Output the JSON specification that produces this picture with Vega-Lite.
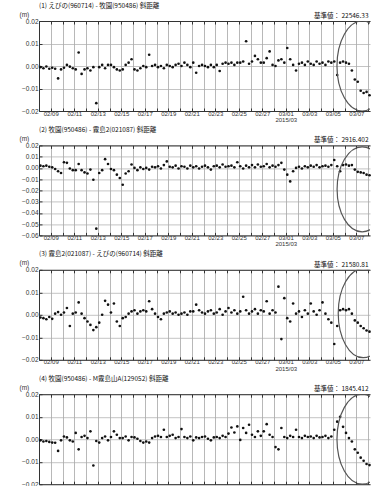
{
"$schema": "https://vega.github.io/schema/vega-lite/v6.json",
"padding": {"left": 19, "top": 2, "right": 0, "bottom": 0},
"background": "white",
"config": {
  "view": {"stroke": null},
  "font": "Liberation Sans",
  "axis": {"labelFont": "Liberation Sans", "labelColor": "#333", "titleFont": "Liberation Sans", "titleColor": "#333"},
  "title": {"font": "Noto Sans CJK JP", "fontSize": 6.5, "fontWeight": "normal", "color": "#111", "anchor": "start", "frame": "group", "offset": 2}
},
"datasets": {
"p1": [
{"t":"2015-02-08T03:00","v":-0.0005},{"t":"2015-02-08T09:00","v":-0.001},{"t":"2015-02-08T15:00","v":-0.0002},{"t":"2015-02-08T21:00","v":-0.0012},
{"t":"2015-02-09T03:00","v":-0.0008},{"t":"2015-02-09T09:00","v":-0.0012},{"t":"2015-02-09T15:00","v":-0.0055},{"t":"2015-02-09T21:00","v":-0.0015},
{"t":"2015-02-10T03:00","v":-0.0008},{"t":"2015-02-10T09:00","v":0.0005},{"t":"2015-02-10T15:00","v":-0.0003},{"t":"2015-02-10T21:00","v":-0.001},
{"t":"2015-02-11T03:00","v":-0.0015},{"t":"2015-02-11T09:00","v":0.006},{"t":"2015-02-11T15:00","v":-0.0035},{"t":"2015-02-11T21:00","v":-0.0015},
{"t":"2015-02-12T03:00","v":-0.001},{"t":"2015-02-12T09:00","v":-0.002},{"t":"2015-02-12T15:00","v":-0.0005},{"t":"2015-02-12T21:00","v":-0.0165},
{"t":"2015-02-13T03:00","v":-0.0005},{"t":"2015-02-13T09:00","v":0.0005},{"t":"2015-02-13T15:00","v":-0.001},{"t":"2015-02-13T21:00","v":0.0005},
{"t":"2015-02-14T03:00","v":0.0005},{"t":"2015-02-14T09:00","v":-0.0005},{"t":"2015-02-14T15:00","v":-0.0015},{"t":"2015-02-14T21:00","v":-0.002},
{"t":"2015-02-15T03:00","v":-0.0015},{"t":"2015-02-15T09:00","v":0.0005},{"t":"2015-02-15T15:00","v":0.0015},{"t":"2015-02-15T21:00","v":0.003},
{"t":"2015-02-16T03:00","v":-0.0015},{"t":"2015-02-16T09:00","v":-0.002},{"t":"2015-02-16T15:00","v":-0.001},{"t":"2015-02-16T21:00","v":0.0},
{"t":"2015-02-17T03:00","v":-0.0005},{"t":"2015-02-17T09:00","v":0.005},{"t":"2015-02-17T15:00","v":0.0},{"t":"2015-02-17T21:00","v":0.0005},
{"t":"2015-02-18T03:00","v":-0.0005},{"t":"2015-02-18T09:00","v":0.0},{"t":"2015-02-18T15:00","v":-0.001},{"t":"2015-02-18T21:00","v":0.0005},
{"t":"2015-02-19T03:00","v":0.0},{"t":"2015-02-19T09:00","v":-0.0005},{"t":"2015-02-19T15:00","v":0.0005},{"t":"2015-02-19T21:00","v":0.001},
{"t":"2015-02-20T03:00","v":0.0},{"t":"2015-02-20T09:00","v":0.0015},{"t":"2015-02-20T15:00","v":0.0005},{"t":"2015-02-20T21:00","v":-0.0005},
{"t":"2015-02-21T03:00","v":0.0015},{"t":"2015-02-21T09:00","v":-0.003},{"t":"2015-02-21T15:00","v":0.0},{"t":"2015-02-21T21:00","v":0.0005},
{"t":"2015-02-22T03:00","v":0.0},{"t":"2015-02-22T09:00","v":-0.0005},{"t":"2015-02-22T15:00","v":0.0005},{"t":"2015-02-22T21:00","v":-0.0005},
{"t":"2015-02-23T03:00","v":0.0005},{"t":"2015-02-23T09:00","v":-0.0022},{"t":"2015-02-23T15:00","v":0.001},{"t":"2015-02-23T21:00","v":0.0015},
{"t":"2015-02-24T03:00","v":0.001},{"t":"2015-02-24T09:00","v":0.0015},{"t":"2015-02-24T15:00","v":0.0005},{"t":"2015-02-24T21:00","v":0.0015},
{"t":"2015-02-25T03:00","v":0.0015},{"t":"2015-02-25T09:00","v":0.002},{"t":"2015-02-25T15:00","v":0.011},{"t":"2015-02-25T21:00","v":0.001},
{"t":"2015-02-26T03:00","v":0.002},{"t":"2015-02-26T09:00","v":0.0045},{"t":"2015-02-26T15:00","v":0.003},{"t":"2015-02-26T21:00","v":0.0015},
{"t":"2015-02-27T03:00","v":0.0015},{"t":"2015-02-27T09:00","v":0.0035},{"t":"2015-02-27T15:00","v":0.0065},{"t":"2015-02-27T21:00","v":0.0005},
{"t":"2015-02-28T03:00","v":0.0},{"t":"2015-02-28T09:00","v":0.0025},{"t":"2015-02-28T15:00","v":0.003},{"t":"2015-02-28T21:00","v":0.0015},
{"t":"2015-03-01T03:00","v":0.008},{"t":"2015-03-01T09:00","v":0.003},{"t":"2015-03-01T15:00","v":0.0005},{"t":"2015-03-01T21:00","v":-0.002},
{"t":"2015-03-02T03:00","v":0.001},{"t":"2015-03-02T09:00","v":0.0015},{"t":"2015-03-02T15:00","v":0.0005},{"t":"2015-03-02T21:00","v":0.002},
{"t":"2015-03-03T03:00","v":0.001},{"t":"2015-03-03T09:00","v":0.0005},{"t":"2015-03-03T15:00","v":0.002},{"t":"2015-03-03T21:00","v":0.001},
{"t":"2015-03-04T03:00","v":0.0015},{"t":"2015-03-04T09:00","v":0.0005},{"t":"2015-03-04T15:00","v":0.002},{"t":"2015-03-04T21:00","v":0.0015},
{"t":"2015-03-05T03:00","v":0.002},{"t":"2015-03-05T09:00","v":-0.004},{"t":"2015-03-05T15:00","v":0.0015},{"t":"2015-03-05T21:00","v":0.002},
{"t":"2015-03-06T03:00","v":0.0015},{"t":"2015-03-06T09:00","v":0.001},{"t":"2015-03-06T15:00","v":-0.002},{"t":"2015-03-06T21:00","v":-0.006},
{"t":"2015-03-07T03:00","v":-0.007},{"t":"2015-03-07T09:00","v":-0.011},{"t":"2015-03-07T15:00","v":-0.012},{"t":"2015-03-07T21:00","v":-0.0115},
{"t":"2015-03-08T03:00","v":-0.013}
],
"p2": [
{"t":"2015-02-08T03:00","v":0.002},{"t":"2015-02-08T09:00","v":0.0015},{"t":"2015-02-08T15:00","v":0.002},{"t":"2015-02-08T21:00","v":0.001},
{"t":"2015-02-09T03:00","v":0.0005},{"t":"2015-02-09T09:00","v":-0.001},{"t":"2015-02-09T15:00","v":-0.003},{"t":"2015-02-09T21:00","v":-0.0045},
{"t":"2015-02-10T03:00","v":0.005},{"t":"2015-02-10T09:00","v":0.0045},{"t":"2015-02-10T15:00","v":-0.0005},{"t":"2015-02-10T21:00","v":-0.002},
{"t":"2015-02-11T03:00","v":-0.002},{"t":"2015-02-11T09:00","v":0.0035},{"t":"2015-02-11T15:00","v":-0.002},{"t":"2015-02-11T21:00","v":-0.004},
{"t":"2015-02-12T03:00","v":-0.005},{"t":"2015-02-12T09:00","v":-0.0015},{"t":"2015-02-12T15:00","v":-0.0105},{"t":"2015-02-12T21:00","v":-0.054},
{"t":"2015-02-13T03:00","v":-0.0045},{"t":"2015-02-13T09:00","v":-0.002},{"t":"2015-02-13T15:00","v":0.0078},{"t":"2015-02-13T21:00","v":0.0035},
{"t":"2015-02-14T03:00","v":-0.001},{"t":"2015-02-14T09:00","v":-0.002},{"t":"2015-02-14T15:00","v":-0.006},{"t":"2015-02-14T21:00","v":-0.009},
{"t":"2015-02-15T03:00","v":-0.015},{"t":"2015-02-15T09:00","v":-0.005},{"t":"2015-02-15T15:00","v":-0.003},{"t":"2015-02-15T21:00","v":0.003},
{"t":"2015-02-16T03:00","v":0.0},{"t":"2015-02-16T09:00","v":-0.002},{"t":"2015-02-16T15:00","v":0.0005},{"t":"2015-02-16T21:00","v":-0.001},
{"t":"2015-02-17T03:00","v":0.0},{"t":"2015-02-17T09:00","v":-0.0015},{"t":"2015-02-17T15:00","v":0.001},{"t":"2015-02-17T21:00","v":0.0005},
{"t":"2015-02-18T03:00","v":0.0015},{"t":"2015-02-18T09:00","v":-0.0005},{"t":"2015-02-18T15:00","v":0.0025},{"t":"2015-02-18T21:00","v":0.0058},
{"t":"2015-02-19T03:00","v":0.001},{"t":"2015-02-19T09:00","v":0.0005},{"t":"2015-02-19T15:00","v":0.002},{"t":"2015-02-19T21:00","v":-0.0005},
{"t":"2015-02-20T03:00","v":0.0015},{"t":"2015-02-20T09:00","v":0.001},{"t":"2015-02-20T15:00","v":-0.0005},{"t":"2015-02-20T21:00","v":0.002},
{"t":"2015-02-21T03:00","v":0.0005},{"t":"2015-02-21T09:00","v":0.0015},{"t":"2015-02-21T15:00","v":-0.0005},{"t":"2015-02-21T21:00","v":0.001},
{"t":"2015-02-22T03:00","v":0.002},{"t":"2015-02-22T09:00","v":0.0005},{"t":"2015-02-22T15:00","v":-0.0015},{"t":"2015-02-22T21:00","v":0.0015},
{"t":"2015-02-23T03:00","v":0.002},{"t":"2015-02-23T09:00","v":0.0005},{"t":"2015-02-23T15:00","v":0.003},{"t":"2015-02-23T21:00","v":0.001},
{"t":"2015-02-24T03:00","v":0.0015},{"t":"2015-02-24T09:00","v":0.002},{"t":"2015-02-24T15:00","v":0.0005},{"t":"2015-02-24T21:00","v":0.005},
{"t":"2015-02-25T03:00","v":0.0015},{"t":"2015-02-25T09:00","v":-0.0005},{"t":"2015-02-25T15:00","v":0.002},{"t":"2015-02-25T21:00","v":0.0005},
{"t":"2015-02-26T03:00","v":0.0025},{"t":"2015-02-26T09:00","v":0.0005},{"t":"2015-02-26T15:00","v":0.003},{"t":"2015-02-26T21:00","v":0.001},
{"t":"2015-02-27T03:00","v":0.0015},{"t":"2015-02-27T09:00","v":0.0035},{"t":"2015-02-27T15:00","v":0.0005},{"t":"2015-02-27T21:00","v":0.002},
{"t":"2015-02-28T03:00","v":0.001},{"t":"2015-02-28T09:00","v":0.0025},{"t":"2015-02-28T15:00","v":0.0045},{"t":"2015-02-28T21:00","v":-0.0015},
{"t":"2015-03-01T03:00","v":-0.006},{"t":"2015-03-01T09:00","v":-0.012},{"t":"2015-03-01T15:00","v":-0.003},{"t":"2015-03-01T21:00","v":0.0},
{"t":"2015-03-02T03:00","v":0.001},{"t":"2015-03-02T09:00","v":-0.0005},{"t":"2015-03-02T15:00","v":0.0015},{"t":"2015-03-02T21:00","v":0.0005},
{"t":"2015-03-03T03:00","v":0.002},{"t":"2015-03-03T09:00","v":0.001},{"t":"2015-03-03T15:00","v":0.0025},{"t":"2015-03-03T21:00","v":0.0005},
{"t":"2015-03-04T03:00","v":0.0015},{"t":"2015-03-04T09:00","v":0.002},{"t":"2015-03-04T15:00","v":0.001},{"t":"2015-03-04T21:00","v":0.0025},
{"t":"2015-03-05T03:00","v":0.007},{"t":"2015-03-05T09:00","v":0.0015},{"t":"2015-03-05T15:00","v":-0.003},{"t":"2015-03-05T21:00","v":0.0025},
{"t":"2015-03-06T03:00","v":0.003},{"t":"2015-03-06T09:00","v":0.002},{"t":"2015-03-06T15:00","v":0.0025},{"t":"2015-03-06T21:00","v":-0.0015},
{"t":"2015-03-07T03:00","v":-0.0035},{"t":"2015-03-07T09:00","v":-0.004},{"t":"2015-03-07T15:00","v":-0.0045},{"t":"2015-03-07T21:00","v":-0.006},
{"t":"2015-03-08T03:00","v":-0.0065}
],
"p3": [
{"t":"2015-02-08T03:00","v":-0.0012},{"t":"2015-02-08T09:00","v":-0.0015},{"t":"2015-02-08T15:00","v":-0.002},{"t":"2015-02-08T21:00","v":-0.001},
{"t":"2015-02-09T03:00","v":-0.0018},{"t":"2015-02-09T09:00","v":0.0005},{"t":"2015-02-09T15:00","v":0.0012},{"t":"2015-02-09T21:00","v":0.0},
{"t":"2015-02-10T03:00","v":0.001},{"t":"2015-02-10T09:00","v":0.003},{"t":"2015-02-10T15:00","v":-0.005},{"t":"2015-02-10T21:00","v":0.0005},
{"t":"2015-02-11T03:00","v":0.001},{"t":"2015-02-11T09:00","v":0.0055},{"t":"2015-02-11T15:00","v":0.0005},{"t":"2015-02-11T21:00","v":-0.0015},
{"t":"2015-02-12T03:00","v":-0.003},{"t":"2015-02-12T09:00","v":-0.0045},{"t":"2015-02-12T15:00","v":-0.0068},{"t":"2015-02-12T21:00","v":-0.0055},
{"t":"2015-02-13T03:00","v":-0.0035},{"t":"2015-02-13T09:00","v":0.0},{"t":"2015-02-13T15:00","v":0.0062},{"t":"2015-02-13T21:00","v":0.0045},
{"t":"2015-02-14T03:00","v":0.001},{"t":"2015-02-14T09:00","v":0.005},{"t":"2015-02-14T15:00","v":-0.003},{"t":"2015-02-14T21:00","v":-0.005},
{"t":"2015-02-15T03:00","v":-0.0015},{"t":"2015-02-15T09:00","v":-0.001},{"t":"2015-02-15T15:00","v":0.0005},{"t":"2015-02-15T21:00","v":0.0015},
{"t":"2015-02-16T03:00","v":0.002},{"t":"2015-02-16T09:00","v":0.0005},{"t":"2015-02-16T15:00","v":0.0015},{"t":"2015-02-16T21:00","v":0.002},
{"t":"2015-02-17T03:00","v":0.0015},{"t":"2015-02-17T09:00","v":0.006},{"t":"2015-02-17T15:00","v":0.0025},{"t":"2015-02-17T21:00","v":0.0005},
{"t":"2015-02-18T03:00","v":-0.001},{"t":"2015-02-18T09:00","v":-0.002},{"t":"2015-02-18T15:00","v":0.0005},{"t":"2015-02-18T21:00","v":0.001},
{"t":"2015-02-19T03:00","v":0.0015},{"t":"2015-02-19T09:00","v":0.0005},{"t":"2015-02-19T15:00","v":0.001},{"t":"2015-02-19T21:00","v":0.0},
{"t":"2015-02-20T03:00","v":0.0005},{"t":"2015-02-20T09:00","v":0.001},{"t":"2015-02-20T15:00","v":0.0},{"t":"2015-02-20T21:00","v":0.0015},
{"t":"2015-02-21T03:00","v":0.0015},{"t":"2015-02-21T09:00","v":0.0045},{"t":"2015-02-21T15:00","v":0.002},{"t":"2015-02-21T21:00","v":0.001},
{"t":"2015-02-22T03:00","v":0.0005},{"t":"2015-02-22T09:00","v":0.0015},{"t":"2015-02-22T15:00","v":0.002},{"t":"2015-02-22T21:00","v":0.0005},
{"t":"2015-02-23T03:00","v":0.001},{"t":"2015-02-23T09:00","v":0.0025},{"t":"2015-02-23T15:00","v":0.0},{"t":"2015-02-23T21:00","v":0.0015},
{"t":"2015-02-24T03:00","v":0.003},{"t":"2015-02-24T09:00","v":0.001},{"t":"2015-02-24T15:00","v":0.002},{"t":"2015-02-24T21:00","v":0.0005},
{"t":"2015-02-25T03:00","v":0.0015},{"t":"2015-02-25T09:00","v":0.008},{"t":"2015-02-25T15:00","v":0.002},{"t":"2015-02-25T21:00","v":0.0005},
{"t":"2015-02-26T03:00","v":0.0015},{"t":"2015-02-26T09:00","v":0.0025},{"t":"2015-02-26T15:00","v":0.0005},{"t":"2015-02-26T21:00","v":0.002},
{"t":"2015-02-27T03:00","v":0.0015},{"t":"2015-02-27T09:00","v":0.006},{"t":"2015-02-27T15:00","v":0.0005},{"t":"2015-02-27T21:00","v":0.002},
{"t":"2015-02-28T03:00","v":0.001},{"t":"2015-02-28T09:00","v":0.0125},{"t":"2015-02-28T15:00","v":-0.0108},{"t":"2015-02-28T21:00","v":0.0074},
{"t":"2015-03-01T03:00","v":-0.0015},{"t":"2015-03-01T09:00","v":-0.003},{"t":"2015-03-01T15:00","v":0.005},{"t":"2015-03-01T21:00","v":0.0005},
{"t":"2015-03-02T03:00","v":0.0015},{"t":"2015-03-02T09:00","v":-0.001},{"t":"2015-03-02T15:00","v":0.002},{"t":"2015-03-02T21:00","v":0.0005},
{"t":"2015-03-03T03:00","v":0.005},{"t":"2015-03-03T09:00","v":0.0015},{"t":"2015-03-03T15:00","v":0.0},{"t":"2015-03-03T21:00","v":0.002},
{"t":"2015-03-04T03:00","v":0.0055},{"t":"2015-03-04T09:00","v":0.0005},{"t":"2015-03-04T15:00","v":-0.002},{"t":"2015-03-04T21:00","v":-0.0035},
{"t":"2015-03-05T03:00","v":-0.013},{"t":"2015-03-05T09:00","v":-0.005},{"t":"2015-03-05T15:00","v":0.002},{"t":"2015-03-05T21:00","v":0.0025},
{"t":"2015-03-06T03:00","v":0.002},{"t":"2015-03-06T09:00","v":0.0025},{"t":"2015-03-06T15:00","v":0.0005},{"t":"2015-03-06T21:00","v":-0.0025},
{"t":"2015-03-07T03:00","v":-0.0035},{"t":"2015-03-07T09:00","v":-0.005},{"t":"2015-03-07T15:00","v":-0.006},{"t":"2015-03-07T21:00","v":-0.007},
{"t":"2015-03-08T03:00","v":-0.0075}
],
"p4": [
{"t":"2015-02-08T03:00","v":-0.0005},{"t":"2015-02-08T09:00","v":-0.001},{"t":"2015-02-08T15:00","v":-0.0008},{"t":"2015-02-08T21:00","v":-0.0012},
{"t":"2015-02-09T03:00","v":-0.0015},{"t":"2015-02-09T09:00","v":-0.0016},{"t":"2015-02-09T15:00","v":-0.0052},{"t":"2015-02-09T21:00","v":-0.0005},
{"t":"2015-02-10T03:00","v":0.0012},{"t":"2015-02-10T09:00","v":0.0008},{"t":"2015-02-10T15:00","v":-0.0005},{"t":"2015-02-10T21:00","v":-0.001},
{"t":"2015-02-11T03:00","v":0.0028},{"t":"2015-02-11T09:00","v":-0.0045},{"t":"2015-02-11T15:00","v":0.001},{"t":"2015-02-11T21:00","v":0.0015},
{"t":"2015-02-12T03:00","v":0.0005},{"t":"2015-02-12T09:00","v":0.0035},{"t":"2015-02-12T15:00","v":-0.0117},{"t":"2015-02-12T21:00","v":-0.0008},
{"t":"2015-02-13T03:00","v":-0.0015},{"t":"2015-02-13T09:00","v":0.0005},{"t":"2015-02-13T15:00","v":0.0012},{"t":"2015-02-13T21:00","v":-0.0005},
{"t":"2015-02-14T03:00","v":0.001},{"t":"2015-02-14T09:00","v":0.0035},{"t":"2015-02-14T15:00","v":0.002},{"t":"2015-02-14T21:00","v":0.0005},
{"t":"2015-02-15T03:00","v":0.0005},{"t":"2015-02-15T09:00","v":0.0012},{"t":"2015-02-15T15:00","v":-0.0005},{"t":"2015-02-15T21:00","v":0.001},
{"t":"2015-02-16T03:00","v":0.0008},{"t":"2015-02-16T09:00","v":0.0002},{"t":"2015-02-16T15:00","v":-0.0008},{"t":"2015-02-16T21:00","v":-0.0015},
{"t":"2015-02-17T03:00","v":-0.001},{"t":"2015-02-17T09:00","v":-0.0015},{"t":"2015-02-17T15:00","v":0.0005},{"t":"2015-02-17T21:00","v":0.0012},
{"t":"2015-02-18T03:00","v":0.0015},{"t":"2015-02-18T09:00","v":0.001},{"t":"2015-02-18T15:00","v":0.0042},{"t":"2015-02-18T21:00","v":0.001},
{"t":"2015-02-19T03:00","v":0.0015},{"t":"2015-02-19T09:00","v":0.002},{"t":"2015-02-19T15:00","v":0.0005},{"t":"2015-02-19T21:00","v":0.001},
{"t":"2015-02-20T03:00","v":0.0045},{"t":"2015-02-20T09:00","v":0.001},{"t":"2015-02-20T15:00","v":0.0005},{"t":"2015-02-20T21:00","v":0.0012},
{"t":"2015-02-21T03:00","v":-0.0005},{"t":"2015-02-21T09:00","v":0.0008},{"t":"2015-02-21T15:00","v":0.0005},{"t":"2015-02-21T21:00","v":0.001},
{"t":"2015-02-22T03:00","v":0.0012},{"t":"2015-02-22T09:00","v":0.0002},{"t":"2015-02-22T15:00","v":-0.0005},{"t":"2015-02-22T21:00","v":0.0008},
{"t":"2015-02-23T03:00","v":0.001},{"t":"2015-02-23T09:00","v":0.0005},{"t":"2015-02-23T15:00","v":0.0015},{"t":"2015-02-23T21:00","v":0.001},
{"t":"2015-02-24T03:00","v":0.0025},{"t":"2015-02-24T09:00","v":0.0052},{"t":"2015-02-24T15:00","v":0.003},{"t":"2015-02-24T21:00","v":0.0057},
{"t":"2015-02-25T03:00","v":-0.0003},{"t":"2015-02-25T09:00","v":0.005},{"t":"2015-02-25T15:00","v":0.0028},{"t":"2015-02-25T21:00","v":0.0064},
{"t":"2015-02-26T03:00","v":0.002},{"t":"2015-02-26T09:00","v":0.001},{"t":"2015-02-26T15:00","v":0.0035},{"t":"2015-02-26T21:00","v":0.0015},
{"t":"2015-02-27T03:00","v":0.0035},{"t":"2015-02-27T09:00","v":0.0067},{"t":"2015-02-27T15:00","v":0.002},{"t":"2015-02-27T21:00","v":0.001},
{"t":"2015-02-28T03:00","v":-0.0035},{"t":"2015-02-28T09:00","v":-0.0045},{"t":"2015-02-28T15:00","v":0.005},{"t":"2015-02-28T21:00","v":0.001},
{"t":"2015-03-01T03:00","v":0.0005},{"t":"2015-03-01T09:00","v":0.0015},{"t":"2015-03-01T15:00","v":0.001},{"t":"2015-03-01T21:00","v":0.0042},
{"t":"2015-03-02T03:00","v":0.001},{"t":"2015-03-02T09:00","v":0.0005},{"t":"2015-03-02T15:00","v":0.0015},{"t":"2015-03-02T21:00","v":0.001},
{"t":"2015-03-03T03:00","v":0.0012},{"t":"2015-03-03T09:00","v":0.0005},{"t":"2015-03-03T15:00","v":0.0015},{"t":"2015-03-03T21:00","v":0.0008},
{"t":"2015-03-04T03:00","v":0.001},{"t":"2015-03-04T09:00","v":0.0015},{"t":"2015-03-04T15:00","v":0.0005},{"t":"2015-03-04T21:00","v":0.0012},
{"t":"2015-03-05T03:00","v":0.0042},{"t":"2015-03-05T09:00","v":0.0078},{"t":"2015-03-05T15:00","v":0.01},{"t":"2015-03-05T21:00","v":0.0055},
{"t":"2015-03-06T03:00","v":0.0028},{"t":"2015-03-06T09:00","v":0.0005},{"t":"2015-03-06T15:00","v":-0.001},{"t":"2015-03-06T21:00","v":-0.0045},
{"t":"2015-03-07T03:00","v":-0.006},{"t":"2015-03-07T09:00","v":-0.0082},{"t":"2015-03-07T15:00","v":-0.0096},{"t":"2015-03-07T21:00","v":-0.011},
{"t":"2015-03-08T03:00","v":-0.0115}
]
},
"vconcat": [
{
  "title": "(1) えびの(960714) - 牧園(950486) 斜距離",
  "width": 331, "height": 90,
  "resolve": {"axis": {"x": "independent", "y": "independent"}},
  "layer": [
    {"data": {"name": "p1"},
     "mark": {"type": "point", "filled": true, "size": 7, "color": "#111", "opacity": 1},
     "encoding": {
       "x": {"field": "t", "type": "temporal", "scale": {"domain": ["2015-02-08T00:00", "2015-03-08T04:00"], "nice": false},
             "axis": {"title": null, "tickCount": {"interval": "day", "step": 1}, "labelOverlap": false, "labelFlush": false,
                      "labelExpr": "round((datum.value - datetime(2015,1,9)) / 864e5) % 2 == 0 ? (timeFormat(datum.value, '%m/%d') == '03/01' ? ['03/01', '2015/03'] : timeFormat(datum.value, '%m/%d')) : ''",
                      "grid": true, "gridColor": "#999", "gridWidth": 0.7, "domainColor": "#333", "tickSize": -3, "tickColor": "#333",
                      "labelFontSize": 6, "labelPadding": 2, "labelLineHeight": 6.5}},
       "y": {"field": "v", "type": "quantitative", "scale": {"domain": [-0.02, 0.02], "nice": false, "zero": false},
             "axis": {"values": [0.02, 0.01, 0, -0.01, -0.02], "format": ".2f", "labelOverlap": false, "title": "(m)", "titleAngle": 0, "titleX": -20, "titleY": -4,
                      "titleAlign": "left", "titleBaseline": "bottom", "titleFontSize": 6.5, "titleFontWeight": "normal",
                      "labelFontSize": 6.5, "labelPadding": 4, "grid": true, "gridColor": "#aaa", "gridWidth": 0.7,
                      "domainColor": "#333", "tickSize": -3, "tickColor": "#333"}}
     }},
    {"data": {"values": [{"note": "ellipse"}]},
     "mark": {"type": "point", "shape": "M 0 -1 A 0.56 1 0 1 1 0 1 A 0.56 1 0 1 1 0 -1 Z", "filled": false, "size": 8100, "color": "#555", "strokeWidth": 1.2, "opacity": 1, "clip": true},
     "encoding": {
       "x": {"datum": {"year": 2015, "month": 3, "date": 7, "hours": 12}, "type": "temporal",
             "axis": {"orient": "top", "title": null, "labels": false, "grid": false, "tickCount": {"interval": "day", "step": 1}, "domainColor": "#333", "tickSize": -3, "tickColor": "#333"}},
       "y": {"datum": 0, "axis": null}
     }},
    {"data": {"values": [{"label": "基準値： 22546.331m"}]},
     "mark": {"type": "text", "align": "left", "baseline": "bottom", "dy": -2, "limit": 56, "ellipsis": " ", "fontSize": 6.5, "font": "Noto Sans CJK JP", "color": "#111"},
     "encoding": {
       "x": {"datum": {"year": 2015, "month": 3, "date": 3, "hours": 9, "minutes": 36}, "type": "temporal", "axis": null},
       "y": {"datum": 0.02, "axis": null},
       "text": {"field": "label"}
     }}
  ]
},
{
  "title": "(2) 牧園(950486) - 霧島2(021087) 斜距離",
  "width": 331, "height": 90,
  "resolve": {"axis": {"x": "independent", "y": "independent"}},
  "layer": [
    {"data": {"name": "p2"},
     "mark": {"type": "point", "filled": true, "size": 7, "color": "#111", "opacity": 1},
     "encoding": {
       "x": {"field": "t", "type": "temporal", "scale": {"domain": ["2015-02-08T00:00", "2015-03-08T04:00"], "nice": false},
             "axis": {"title": null, "tickCount": {"interval": "day", "step": 1}, "labelOverlap": false, "labelFlush": false,
                      "labelExpr": "round((datum.value - datetime(2015,1,9)) / 864e5) % 2 == 0 ? (timeFormat(datum.value, '%m/%d') == '03/01' ? ['03/01', '2015/03'] : timeFormat(datum.value, '%m/%d')) : ''",
                      "grid": true, "gridColor": "#999", "gridWidth": 0.7, "domainColor": "#333", "tickSize": -3, "tickColor": "#333",
                      "labelFontSize": 6, "labelPadding": 2, "labelLineHeight": 6.5}},
       "y": {"field": "v", "type": "quantitative", "scale": {"domain": [-0.06, 0.02], "nice": false, "zero": false},
             "axis": {"values": [0.02, 0.01, 0, -0.01, -0.02, -0.03, -0.04, -0.05, -0.06], "format": ".2f", "labelOverlap": false, "title": "(m)", "titleAngle": 0, "titleX": -20, "titleY": -4,
                      "titleAlign": "left", "titleBaseline": "bottom", "titleFontSize": 6.5, "titleFontWeight": "normal",
                      "labelFontSize": 6.5, "labelPadding": 4, "grid": true, "gridColor": "#aaa", "gridWidth": 0.7,
                      "domainColor": "#333", "tickSize": -3, "tickColor": "#333"}}
     }},
    {"data": {"values": [{"note": "ellipse"}]},
     "mark": {"type": "point", "shape": "M 0 -1 A 0.59 1 0 1 1 0 1 A 0.59 1 0 1 1 0 -1 Z", "filled": false, "size": 7225, "color": "#555", "strokeWidth": 1.2, "opacity": 1, "clip": true},
     "encoding": {
       "x": {"datum": {"year": 2015, "month": 3, "date": 7, "hours": 12}, "type": "temporal",
             "axis": {"orient": "top", "title": null, "labels": false, "grid": false, "tickCount": {"interval": "day", "step": 1}, "domainColor": "#333", "tickSize": -3, "tickColor": "#333"}},
       "y": {"datum": -0.019, "axis": null}
     }},
    {"data": {"values": [{"label": "基準値： 2916.402m"}]},
     "mark": {"type": "text", "align": "left", "baseline": "bottom", "dy": -2, "limit": 56, "ellipsis": " ", "fontSize": 6.5, "font": "Noto Sans CJK JP", "color": "#111"},
     "encoding": {
       "x": {"datum": {"year": 2015, "month": 3, "date": 3, "hours": 9, "minutes": 36}, "type": "temporal", "axis": null},
       "y": {"datum": 0.02, "axis": null},
       "text": {"field": "label"}
     }}
  ]
},
{
  "title": "(3) 霧島2(021087) - えびの(960714) 斜距離",
  "width": 331, "height": 90,
  "resolve": {"axis": {"x": "independent", "y": "independent"}},
  "layer": [
    {"data": {"name": "p3"},
     "mark": {"type": "point", "filled": true, "size": 7, "color": "#111", "opacity": 1},
     "encoding": {
       "x": {"field": "t", "type": "temporal", "scale": {"domain": ["2015-02-08T00:00", "2015-03-08T04:00"], "nice": false},
             "axis": {"title": null, "tickCount": {"interval": "day", "step": 1}, "labelOverlap": false, "labelFlush": false,
                      "labelExpr": "round((datum.value - datetime(2015,1,9)) / 864e5) % 2 == 0 ? (timeFormat(datum.value, '%m/%d') == '03/01' ? ['03/01', '2015/03'] : timeFormat(datum.value, '%m/%d')) : ''",
                      "grid": true, "gridColor": "#999", "gridWidth": 0.7, "domainColor": "#333", "tickSize": -3, "tickColor": "#333",
                      "labelFontSize": 6, "labelPadding": 2, "labelLineHeight": 6.5}},
       "y": {"field": "v", "type": "quantitative", "scale": {"domain": [-0.02, 0.02], "nice": false, "zero": false},
             "axis": {"values": [0.02, 0.01, 0, -0.01, -0.02], "format": ".2f", "labelOverlap": false, "title": "(m)", "titleAngle": 0, "titleX": -20, "titleY": -4,
                      "titleAlign": "left", "titleBaseline": "bottom", "titleFontSize": 6.5, "titleFontWeight": "normal",
                      "labelFontSize": 6.5, "labelPadding": 4, "grid": true, "gridColor": "#aaa", "gridWidth": 0.7,
                      "domainColor": "#333", "tickSize": -3, "tickColor": "#333"}}
     }},
    {"data": {"values": [{"note": "ellipse"}]},
     "mark": {"type": "point", "shape": "M 0 -1 A 0.56 1 0 1 1 0 1 A 0.56 1 0 1 1 0 -1 Z", "filled": false, "size": 7921, "color": "#555", "strokeWidth": 1.2, "opacity": 1, "clip": true},
     "encoding": {
       "x": {"datum": {"year": 2015, "month": 3, "date": 7, "hours": 14}, "type": "temporal",
             "axis": {"orient": "top", "title": null, "labels": false, "grid": false, "tickCount": {"interval": "day", "step": 1}, "domainColor": "#333", "tickSize": -3, "tickColor": "#333"}},
       "y": {"datum": 0.0007, "axis": null}
     }},
    {"data": {"values": [{"label": "基準値： 21580.816m"}]},
     "mark": {"type": "text", "align": "left", "baseline": "bottom", "dy": -2, "limit": 56, "ellipsis": " ", "fontSize": 6.5, "font": "Noto Sans CJK JP", "color": "#111"},
     "encoding": {
       "x": {"datum": {"year": 2015, "month": 3, "date": 3, "hours": 9, "minutes": 36}, "type": "temporal", "axis": null},
       "y": {"datum": 0.02, "axis": null},
       "text": {"field": "label"}
     }}
  ]
},
{
  "title": "(4) 牧園(950486) - M霧島山A(129052) 斜距離",
  "width": 331, "height": 90,
  "resolve": {"axis": {"x": "independent", "y": "independent"}},
  "layer": [
    {"data": {"name": "p4"},
     "mark": {"type": "point", "filled": true, "size": 7, "color": "#111", "opacity": 1},
     "encoding": {
       "x": {"field": "t", "type": "temporal", "scale": {"domain": ["2015-02-08T00:00", "2015-03-08T04:00"], "nice": false},
             "axis": {"title": null, "tickCount": {"interval": "day", "step": 1}, "labels": false,
                      "grid": true, "gridColor": "#999", "gridWidth": 0.7, "domainColor": "#333", "tickSize": -3, "tickColor": "#333"}},
       "y": {"field": "v", "type": "quantitative", "scale": {"domain": [-0.02, 0.02], "nice": false, "zero": false},
             "axis": {"values": [0.02, 0.01, 0, -0.01, -0.02], "format": ".2f", "labelOverlap": false, "title": "(m)", "titleAngle": 0, "titleX": -20, "titleY": -4,
                      "titleAlign": "left", "titleBaseline": "bottom", "titleFontSize": 6.5, "titleFontWeight": "normal",
                      "labelFontSize": 6.5, "labelPadding": 4, "grid": true, "gridColor": "#aaa", "gridWidth": 0.7,
                      "domainColor": "#333", "tickSize": -3, "tickColor": "#333"}}
     }},
    {"data": {"values": [{"note": "ellipse"}]},
     "mark": {"type": "point", "shape": "M 0 -1 A 0.56 1 0 1 1 0 1 A 0.56 1 0 1 1 0 -1 Z", "filled": false, "size": 8100, "color": "#555", "strokeWidth": 1.2, "opacity": 1, "clip": true},
     "encoding": {
       "x": {"datum": {"year": 2015, "month": 3, "date": 7, "hours": 12}, "type": "temporal",
             "axis": {"orient": "top", "title": null, "labels": false, "grid": false, "tickCount": {"interval": "day", "step": 1}, "domainColor": "#333", "tickSize": -3, "tickColor": "#333"}},
       "y": {"datum": 0, "axis": null}
     }},
    {"data": {"values": [{"label": "基準値： 1845.412m"}]},
     "mark": {"type": "text", "align": "left", "baseline": "bottom", "dy": -2, "limit": 56, "ellipsis": " ", "fontSize": 6.5, "font": "Noto Sans CJK JP", "color": "#111"},
     "encoding": {
       "x": {"datum": {"year": 2015, "month": 3, "date": 3, "hours": 9, "minutes": 36}, "type": "temporal", "axis": null},
       "y": {"datum": 0.02, "axis": null},
       "text": {"field": "label"}
     }}
  ]
}
],
"spacing": 34.4,
"bounds": "flush"
}
